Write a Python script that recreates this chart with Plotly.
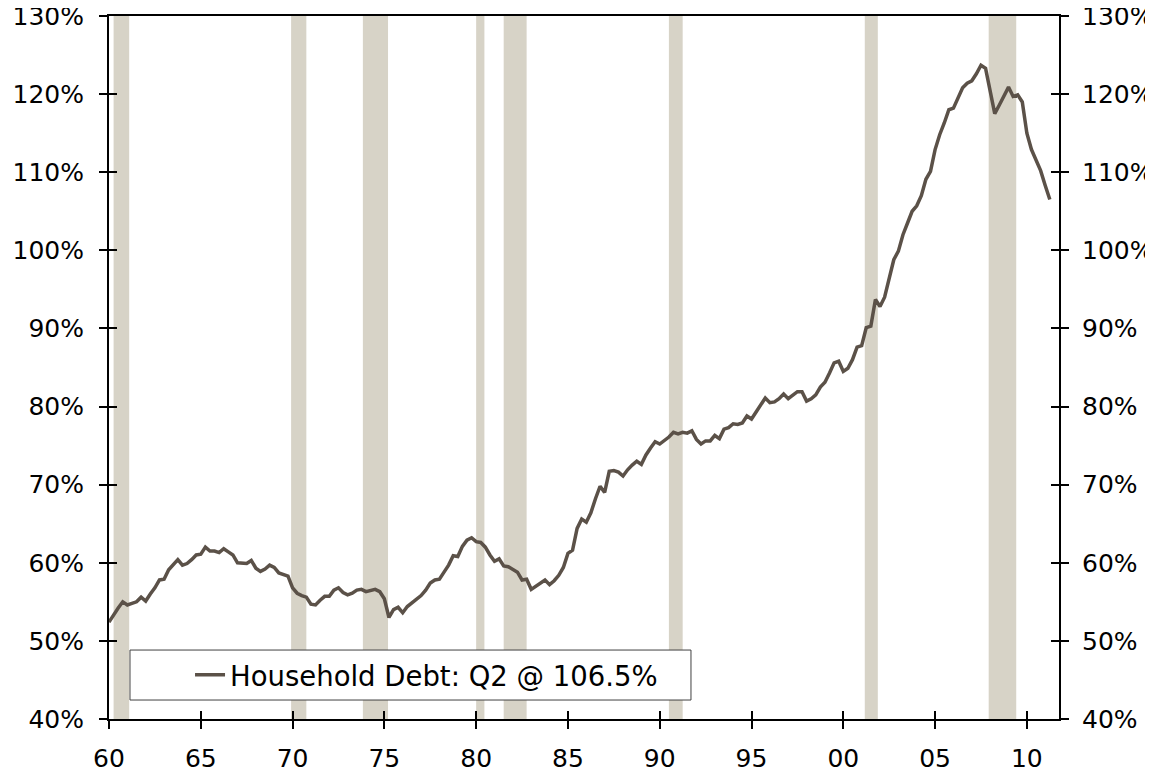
import plotly.graph_objects as go

# ---------------- data ----------------
start_year = 1960          # first quarter: 1960 Q1
debt_pct = [
    52.4, 53.4, 54.2, 55.0, 54.6, 54.8, 55.0, 55.6, 55.1, 56.0,
    56.8, 57.8, 57.9, 59.1, 59.8, 60.4, 59.7, 59.9, 60.4, 61.0,
    61.1, 62.0, 61.5, 61.5, 61.3, 61.8, 61.4, 61.0, 60.0, 60.0,
    59.9, 60.3, 59.3, 58.9, 59.2, 59.7, 59.4, 58.7, 58.5, 58.3,
    56.8, 56.1, 55.8, 55.6, 54.7, 54.6, 55.2, 55.7, 55.7, 56.5,
    56.8, 56.2, 55.9, 56.1, 56.5, 56.6, 56.3, 56.4, 56.6, 56.3,
    55.4, 53.0, 54.0, 54.3, 53.6, 54.4, 54.9, 55.4, 55.8, 56.5,
    57.4, 57.8, 57.9, 58.8, 59.7, 60.9, 60.8, 62.1, 62.9, 63.2,
    62.7, 62.6, 62.0, 61.0, 60.2, 60.5, 59.6, 59.5, 59.1, 58.8,
    57.8, 57.9, 56.6, 57.0, 57.3, 57.8, 57.2, 57.7, 58.4, 59.4,
    61.2, 61.6, 64.4, 65.6, 65.2, 66.4, 68.2, 69.8, 69.0, 71.7,
    71.8, 71.6, 71.1, 71.9, 72.5, 73.0, 72.6, 73.8, 74.7, 75.5,
    75.2, 75.6, 76.1, 76.7, 76.5, 76.7, 76.6, 76.9, 75.8, 75.2,
    75.6, 75.6, 76.3, 75.9, 77.1, 77.3, 77.8, 77.7, 77.9, 78.8,
    78.4, 79.3, 80.2, 81.1, 80.5, 80.6, 81.0, 81.6, 81.0, 81.4,
    81.9, 81.9, 80.7, 81.0, 81.5, 82.5, 83.1, 84.3, 85.6, 85.8,
    84.5, 84.9, 86.0, 87.6, 87.8, 90.1, 90.3, 93.7, 92.8, 94.0,
    96.6, 98.8, 99.9, 102.0, 103.5, 105.0, 105.7, 107.0, 109.1, 110.1,
    112.9, 114.8, 116.3, 118.0, 118.2, 119.4, 120.8, 121.4, 121.7, 122.6,
    123.7, 123.3, 120.3, 117.5, 118.6, 119.7, 120.9, 119.7, 119.9, 119.0,
    115.0, 112.9, 111.6, 110.2, 108.3, 106.5,
]
quarter_dates = [start_year + i / 4 for i in range(len(debt_pct))]

recession_start = [1960.25, 1969.92, 1973.83, 1980.0, 1981.5, 1990.5, 2001.17, 2007.92]
recession_end = [1961.1, 1970.75, 1975.2, 1980.45, 1982.75, 1991.25, 2001.88, 2009.42]

x_tick_vals = [1960, 1965, 1970, 1975, 1980, 1985, 1990, 1995, 2000, 2005, 2010]
x_tick_text = ["60", "65", "70", "75", "80", "85", "90", "95", "00", "05", "10"]
y_tick_vals = [40, 50, 60, 70, 80, 90, 100, 110, 120, 130]
y_tick_text = ["40%", "50%", "60%", "70%", "80%", "90%", "100%", "110%", "120%", "130%"]

series_name = "Household Debt: Q2 @ 106.5%"

# ---------------- styles ----------------
LINE_COLOR = "#5b5148"
BAND_COLOR = "#d7d3c7"
FONT = "DejaVu Sans"
X_RANGE = [1960, 2011.75]
Y_RANGE = [40, 130]

fig = go.Figure()
fig.add_trace(go.Scatter(
    x=quarter_dates, y=debt_pct, mode="lines", name=series_name,
    line=dict(color=LINE_COLOR, width=3.5), showlegend=True,
))
# empty helper traces so the overlay axes (for crossing ticks) are drawn
for xa, ya in [("x", "y2"), ("x2", "y3"), ("x", "y4")]:
    fig.add_trace(go.Scatter(x=[], y=[], xaxis=xa, yaxis=ya,
                             showlegend=False, hoverinfo="skip"))

for s, e in zip(recession_start, recession_end):
    fig.add_shape(type="rect", xref="x", yref="paper", x0=s, x1=e, y0=0, y1=1,
                  fillcolor=BAND_COLOR, line_width=0, layer="below")

# legend box
fig.add_shape(type="rect", xref="paper", yref="paper",
              x0=0.0221, x1=0.6126, y0=0.027, y1=0.0981,
              fillcolor="white", line=dict(color="#404040", width=1), layer="above")

tickfont = dict(family=FONT, size=25, color="black")
common_y = dict(range=Y_RANGE, tickvals=y_tick_vals, ticktext=y_tick_text,
                showgrid=False, automargin=False, ticklabeloverflow="allow",
                zeroline=False, ticklen=8, tickwidth=1.5, tickcolor="black",
                linecolor="black", linewidth=2, tickfont=tickfont)

fig.update_layout(
    width=1145, height=764,
    margin=dict(l=101, r=94, t=8, b=53, autoexpand=False),
    paper_bgcolor="white", plot_bgcolor="rgba(0,0,0,0)",
    font=dict(family=FONT, color="black"),
    xaxis=dict(range=X_RANGE, tickvals=x_tick_vals, ticktext=x_tick_text,
               ticks="outside", ticklen=8, tickwidth=1.5, tickcolor="black",
               showline=True, linecolor="black", linewidth=2, mirror=True,
               showgrid=False, zeroline=False, tickfont=tickfont,
               ticklabelstandoff=8, automargin=False, ticklabeloverflow="allow"),
    xaxis2=dict(range=X_RANGE, tickvals=x_tick_vals, overlaying="x",
                ticks="inside", ticklen=8, tickwidth=1.5, tickcolor="black",
                showticklabels=False, showline=False, showgrid=False,
                zeroline=False, anchor="y3", automargin=False),
    yaxis=dict(side="left", ticks="outside", showline=True, showticklabels=True,
               ticklabelstandoff=10, **common_y),
    yaxis2=dict(side="right", overlaying="y", ticks="outside", showline=True,
                showticklabels=True, ticklabelstandoff=8, anchor="x", **common_y),
    yaxis3=dict(side="left", overlaying="y", ticks="inside", showline=False,
                showticklabels=False, anchor="x2", **common_y),
    yaxis4=dict(side="right", overlaying="y", ticks="inside", showline=False,
                showticklabels=False, anchor="x", **common_y),
    showlegend=True,
    legend=dict(x=0.0853, y=0.0626, xanchor="left", yanchor="middle",
                bgcolor="rgba(0,0,0,0)", borderwidth=0,
                font=dict(family=FONT, size=27.5, color="black")),
)

fig.write_html("out.html")
